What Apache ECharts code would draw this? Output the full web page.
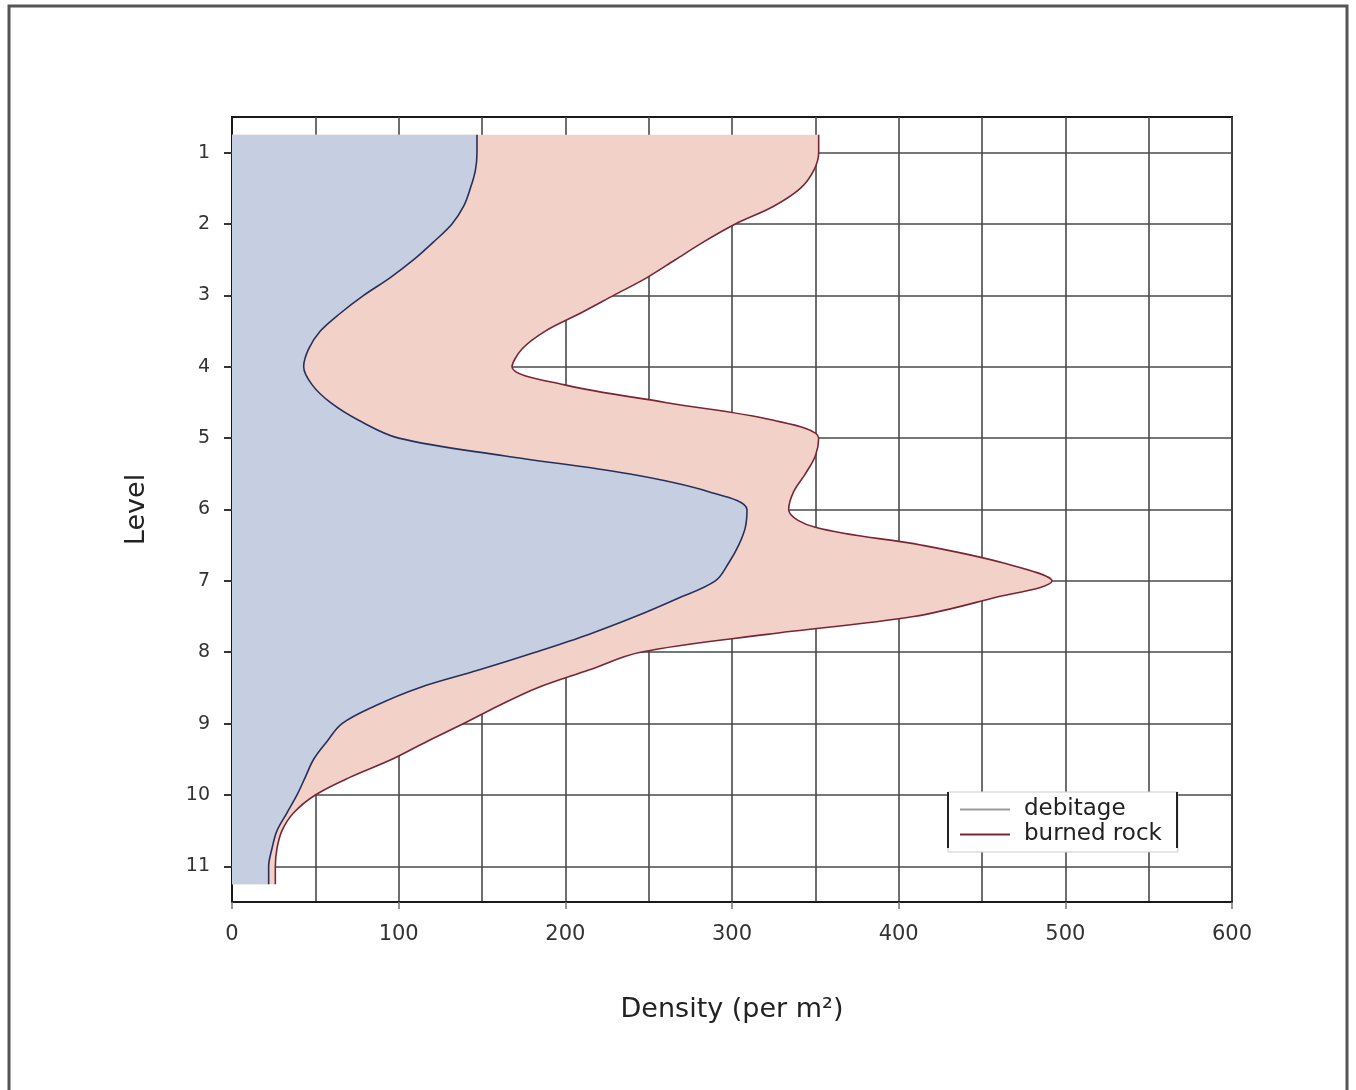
<!DOCTYPE html>
<html><head><meta charset="utf-8">
<script src="https://cdn.jsdelivr.net/npm/echarts@6/dist/echarts.min.js"></script>
<style>html,body{margin:0;padding:0;background:#fff}#c{width:1356px;height:1090px}</style>
</head><body><div id="c"></div>
<script>
// Level axis positions (quarter steps, top to bottom)
const levelCategories = ['0.5','0.75','1','1.25','1.5','1.75','2','2.25','2.5','2.75','3','3.25','3.5','3.75','4','4.25','4.5','4.75','5','5.25','5.5','5.75','6','6.25','6.5','6.75','7','7.25','7.5','7.75','8','8.25','8.5','8.75','9','9.25','9.5','9.75','10','10.25','10.5','10.75','11','11.25','11.5'];
const levelTickLabels = ['1','2','3','4','5','6','7','8','9','10','11'];
const sampleLevels = ['0.75','1','1.25','1.5','1.75','2','2.25','2.5','2.75','3','3.25','3.5','3.75','4','4.25','4.5','4.75','5','5.25','5.5','5.75','6','6.25','6.5','6.75','7','7.25','7.5','7.75','8','8.25','8.5','8.75','9','9.25','9.5','9.75','10','10.25','10.5','10.75','11','11.25'];
const debitageValues = [147,147,146,143,139,132,121,109,95,79,65,53,46,43,48,59,76,100,164,238,286,309,308,304,298,290,267,242,214,182,148,112,86,66,57,49,44,39,33,27,24,22,22];
const burnedRockValues = [352,352,349,341,325,302,283,266,249,229,209,188,174,168,199,260,325,352,350,344,337,334,350,414,463,492,455,409,321,245,214,183,160,139,117,96,71,50,37,30,27,26,26];
const xTickValues = [0,100,200,300,400,500,600];

const FONT = 'DejaVu Sans';
const isTick = (i, v) => levelTickLabels.indexOf(String(v)) >= 0;

const chart = echarts.init(document.getElementById('c'), null, {renderer: 'canvas'});
chart.setOption({
  backgroundColor: '#fff',
  animation: false,
  textStyle: {fontFamily: FONT},
  grid: {left: 232, top: 117, width: 1000, height: 785, show: true, borderColor: '#1a1a1a', borderWidth: 2, backgroundColor: 'transparent', containLabel: false},
  xAxis: {
    type: 'value', min: xTickValues[0], max: xTickValues[xTickValues.length - 1], interval: 100,
    name: 'Density (per m²)', nameLocation: 'middle', nameGap: 94,
    nameTextStyle: {fontFamily: FONT, fontSize: 27, color: '#222'},
    axisLine: {show: true, lineStyle: {color: '#1a1a1a', width: 2}},
    axisTick: {show: true, length: 7, lineStyle: {color: '#777', width: 1.5}},
    axisLabel: {fontFamily: FONT, fontSize: 21, color: '#333', margin: 22},
    splitLine: {show: true, lineStyle: {color: '#4a4a4a', width: 1.6}},
    minorTick: {show: false, splitNumber: 2},
    minorSplitLine: {show: true, lineStyle: {color: '#4a4a4a', width: 1.6}}
  },
  yAxis: {
    type: 'category', data: levelCategories, boundaryGap: false, inverse: true,
    name: 'Level', nameLocation: 'middle', nameGap: 82, nameRotate: 90,
    nameTextStyle: {fontFamily: FONT, fontSize: 27, color: '#222'},
    axisLine: {show: true, lineStyle: {color: '#1a1a1a', width: 2}},
    axisTick: {show: true, length: 8, interval: isTick, lineStyle: {color: '#333', width: 2}},
    axisLabel: {fontFamily: FONT, fontSize: 19, color: '#333', margin: 22, interval: isTick},
    splitLine: {show: true, interval: isTick, lineStyle: {color: '#4a4a4a', width: 1.6}}
  },
  legend: {
    orient: 'vertical', left: 948, top: 792, padding: [6, 16, 6, 12], itemGap: 2,
    backgroundColor: '#fff', borderColor: '#ccc', borderWidth: 1,
    itemWidth: 50, itemHeight: 2, icon: 'rect',
    textStyle: {fontFamily: FONT, fontSize: 23, color: '#222', lineHeight: 22, padding: [0, 0, 0, 9]},
    data: [
      {name: 'debitage', itemStyle: {color: '#9a9a9a'}},
      {name: 'burned rock', itemStyle: {color: '#7a2434'}}
    ]
  },
  graphic: [
    {type: 'rect', shape: {x: 9, y: 6, width: 1338, height: 1095}, style: {fill: 'none', stroke: '#555', lineWidth: 3}, silent: true},
    {type: 'line', shape: {x1: 948, y1: 792, x2: 948, y2: 848}, style: {stroke: '#222', lineWidth: 2}, z: 100},
    {type: 'line', shape: {x1: 1177, y1: 792, x2: 1177, y2: 848}, style: {stroke: '#222', lineWidth: 2}, z: 100}
  ],
  series: [
    {
      name: 'burned rock', type: 'line', smooth: 0.35, showSymbol: false, symbol: 'none',
      data: sampleLevels.map((l, i) => [burnedRockValues[i], l]),
      lineStyle: {color: '#7a2434', width: 1.6},
      itemStyle: {color: '#7a2434'},
      areaStyle: {color: '#f2d1c9', opacity: 1},
      z: 2
    },
    {
      name: 'debitage', type: 'line', smooth: 0.35, showSymbol: false, symbol: 'none',
      data: sampleLevels.map((l, i) => [debitageValues[i], l]),
      lineStyle: {color: '#27305a', width: 1.6},
      itemStyle: {color: '#27305a'},
      areaStyle: {color: '#c6cee2', opacity: 1},
      z: 3
    }
  ]
});
</script>
</body></html>
